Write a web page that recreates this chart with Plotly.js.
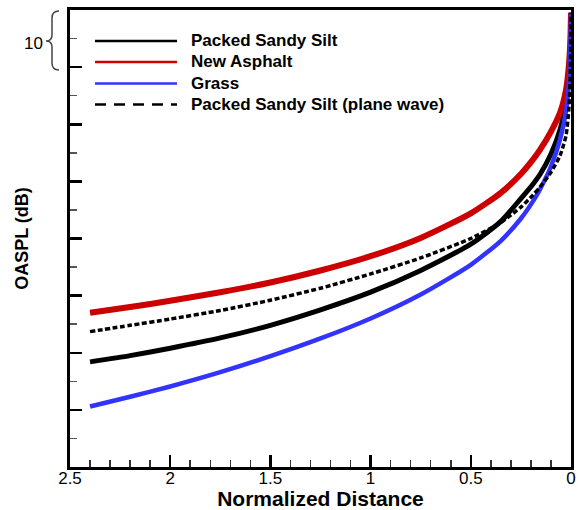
<!DOCTYPE html>
<html>
<head>
<meta charset="utf-8">
<script src="https://cdn.plot.ly/plotly-3.0.1.min.js"></script>
<style>html,body{margin:0;padding:0;background:#fff;}#chart{width:578px;height:510px;}</style>
</head>
<body>
<div id="chart"></div>
<script>
// Normalized distance (x) and OASPL (dB)
const distance = [2.4, 2.2, 2.0, 1.75, 1.5, 1.25, 1.0, 0.75, 0.5, 0.35, 0.25, 0.19, 0.155, 0.1, 0.055, 0.025, 0.01, 0.003, 0];
const packedSandySilt = [18.4, 19.5, 20.8, 22.6, 24.8, 27.5, 30.6, 34.4, 39.0, 43.0, 47.0, 49.5, 51.2, 54.8, 59.0, 64.0, 69.0, 74.5, 79.5];
const newAsphalt = [27.0, 28.0, 29.1, 30.6, 32.3, 34.4, 36.9, 40.1, 44.4, 48.0, 51.3, 53.8, 55.5, 58.7, 62.0, 66.0, 70.5, 75.0, 79.5];
const grass = [10.6, 12.3, 14.1, 16.6, 19.4, 22.5, 26.0, 30.2, 35.4, 39.6, 43.5, 46.5, 48.6, 52.6, 57.3, 62.3, 67.5, 73.5, 79.5];
const packedSandySiltPlane = [23.7, 24.8, 25.9, 27.4, 29.2, 31.3, 33.8, 36.6, 40.0, 42.8, 45.5, 47.6, 49.0, 51.6, 54.5, 58.0, 63.0, 70.0, 79.5];
const seriesNames = ["Packed Sandy Silt", "New Asphalt", "Grass", "Packed Sandy Silt (plane wave)"];
const seriesColors = ["#000000", "#cc0000", "#3333ff", "#000000"];
const seriesWidths = [5, 6, 4.5, 3.5];
const seriesDash = ["solid", "solid", "solid", "5px,2.5px"];
const xTickVals = [2.5, 2, 1.5, 1, 0.5, 0];
const xTickText = ["2.5", "2", "1.5", "1", "0.5", "0"];
const braceLabel = "10";

const ys = [packedSandySilt, newAsphalt, grass, packedSandySiltPlane];
const traces = ys.map((y, i) => ({
  x: distance, y: y, type: "scatter", mode: "lines", name: seriesNames[i],
  line: {color: seriesColors[i], width: seriesWidths[i], dash: seriesDash[i], shape: "spline", smoothing: 0.6},
  showlegend: false
}));

// layout helpers (pixel -> paper)
const L = 70, R = 571, T = 10, B = 467;
const px = v => (v - L) / (R - L);
const py = v => (B - v) / (B - T);

const shapes = [];
const annotations = [];
const legY = [41, 62, 83.5, 104.5];
const legDash = ["solid", "solid", "solid", "11px,8px"];
seriesNames.forEach((n, i) => {
  shapes.push({type: "line", xref: "paper", yref: "paper", x0: px(95), x1: px(177), y0: py(legY[i]), y1: py(legY[i]),
    line: {color: seriesColors[i], width: 2.5, dash: legDash[i]}});
  annotations.push({xref: "paper", yref: "paper", x: px(189), y: py(legY[i]), xanchor: "left", yanchor: "middle",
    text: "<b>" + n + "</b>", showarrow: false, font: {family: "Liberation Sans, Arial, sans-serif", size: 17, color: "#000"}});
});
// brace "{" with 10 dB label
const bp = (a, b) => px(a) + " " + py(b);
shapes.push({type: "path", xref: "paper", yref: "paper",
  path: "M " + bp(59, 11) + " Q " + bp(52, 11) + " " + bp(52, 18) + " L " + bp(52, 35) + " Q " + bp(52, 41) + " " + bp(46, 41) +
        " Q " + bp(52, 41) + " " + bp(52, 47) + " L " + bp(52, 63) + " Q " + bp(52, 70) + " " + bp(59, 70),
  line: {color: "#444", width: 1.5}});
annotations.push({xref: "paper", yref: "paper", x: px(33), y: py(43), xanchor: "center", yanchor: "middle",
  text: braceLabel, showarrow: false, font: {family: "Liberation Sans, Arial, sans-serif", size: 17, color: "#000"}});

const layout = {
  width: 578, height: 510,
  margin: {l: L, r: 578 - R, t: T, b: 510 - B},
  paper_bgcolor: "#fff", plot_bgcolor: "#fff",
  font: {family: "Liberation Sans, Arial, sans-serif", color: "#000"},
  showlegend: false,
  xaxis: {
    range: [2.5, 0], tickvals: xTickVals, ticktext: xTickText,
    ticks: "inside", ticklen: 12, tickwidth: 2.5, tickcolor: "#000",
    minor: {dtick: 0.1, ticks: "inside", ticklen: 7, tickwidth: 1.5, tickcolor: "#333", showgrid: false},
    showgrid: false, zeroline: false, showline: true, linewidth: 3, linecolor: "#000", mirror: true,
    tickfont: {size: 17}, ticklabelstandoff: -6,
    title: {text: "<b>Normalized Distance</b>", font: {size: 21}, standoff: 0}
  },
  yaxis: {
    range: [0, 80], dtick: 10, tick0: 0, showticklabels: false,
    ticks: "inside", ticklen: 12, tickwidth: 2.5, tickcolor: "#000",
    minor: {dtick: 5, ticks: "inside", ticklen: 7, tickwidth: 1.5, tickcolor: "#555", showgrid: false},
    showgrid: false, zeroline: false, showline: true, linewidth: 3, linecolor: "#000", mirror: true,
    title: {text: "<b>OASPL (dB)</b>", font: {size: 18}, standoff: 34}
  },
  shapes: shapes, annotations: annotations
};
Plotly.newPlot("chart", traces, layout, {displayModeBar: false, staticPlot: true});
</script>
</body>
</html>
